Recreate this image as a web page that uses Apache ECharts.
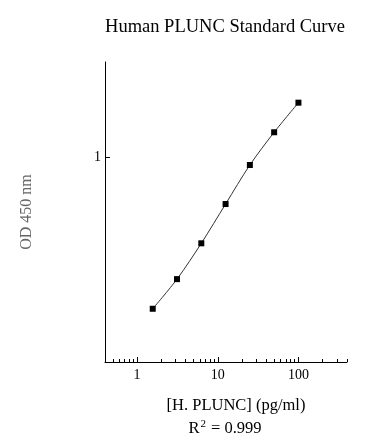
<!DOCTYPE html>
<html><head><meta charset="utf-8">
<script src="https://cdn.jsdelivr.net/npm/echarts@6/dist/echarts.min.js"></script>
<style>html,body{margin:0;padding:0;background:#fff}#c{width:388px;height:444px}</style>
</head><body><div id="c"></div>
<script>
const concentrations = [1.5625, 3.125, 6.25, 12.5, 25, 50, 100];
const odValues = [0.182, 0.254, 0.380, 0.591, 0.917, 1.325, 1.848];
const xMajorTicks = [1, 10, 100];
const xMinorTicks = [0.5,0.6,0.7,0.8,0.9,2,3,4,5,6,7,8,9,20,30,40,50,60,70,80,90,200,300,400];
const yTicks = [1];
const titleText = 'Human PLUNC Standard Curve';
const xName = '[H. PLUNC] (pg/ml)';
const yName = 'OD 450 nm';

const serif = 'Liberation Serif';
const chart = echarts.init(document.getElementById('c'));
chart.setOption({
  backgroundColor: '#fff',
  animation: false,
  title: [
    {text: titleText, left: 220, top: 13, textAlign: 'center',
     textStyle: {fontFamily: serif, fontSize: 18.5, fontWeight: 'normal', color: '#000'}},
    {text: 'R{sup|2} = 0.999', left: 220, top: 414, textAlign: 'center',
     textStyle: {fontFamily: serif, fontSize: 16.5, fontWeight: 'normal', color: '#000',
       rich: {sup: {fontFamily: serif, fontSize: 11, verticalAlign: 'top', padding: [0,1,8,1], color:'#000'}}}},
    {text: xName, left: 231, top: 392, textAlign: 'center',
     textStyle: {fontFamily: serif, fontSize: 16.5, fontWeight: 'normal', color: '#000'}}
  ],
  grid: {left: 105, top: 62, right: 41, bottom: 82},
  xAxis: [
    {type: 'log', logBase: 10, min: 0.4, max: 400, position: 'bottom',
     axisLine: {show: true, lineStyle: {color: '#000', width: 1}},
     axisTick: {show: true, inside: true, length: 5, customValues: xMajorTicks, lineStyle: {color: '#000'}},
     axisLabel: {customValues: xMajorTicks, fontFamily: serif, fontSize: 14, color: '#000', margin: 6},
     splitLine: {show: false}},
    {type: 'log', logBase: 10, min: 0.4, max: 400, position: 'bottom', gridIndex: 0,
     axisLine: {show: false},
     axisTick: {show: true, inside: true, length: 3, customValues: xMinorTicks, lineStyle: {color: '#000'}},
     axisLabel: {show: false},
     splitLine: {show: false}}
  ],
  yAxis: {type: 'log', logBase: 10, min: 0.1, max: 2.92,
    name: yName, nameLocation: 'middle', nameGap: 70, nameRotate: 90,
    nameTextStyle: {fontFamily: serif, fontSize: 16, color: '#666'},
    axisLine: {show: true, lineStyle: {color: '#000', width: 1}},
    axisTick: {show: true, inside: true, length: 5, customValues: yTicks, lineStyle: {color: '#000'}},
    axisLabel: {customValues: yTicks, fontFamily: serif, fontSize: 14, color: '#000', margin: 4},
    splitLine: {show: false}},
  series: [{
    type: 'line', xAxisIndex: 0,
    data: concentrations.map((c, i) => [c, odValues[i]]),
    smooth: 0.3,
    symbol: 'rect', symbolSize: 6,
    itemStyle: {color: '#000'},
    lineStyle: {color: '#333', width: 1}
  }]
});
</script></body></html>
